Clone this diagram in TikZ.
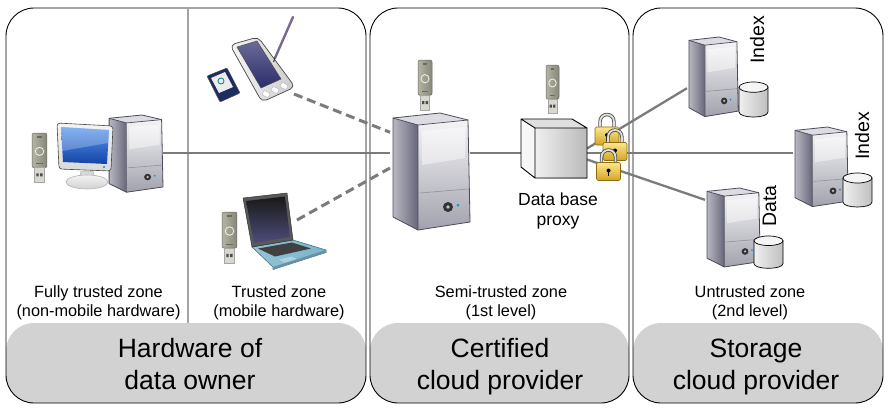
\documentclass[tikz,border=0pt]{standalone}
\usepackage{fontspec}
\setmainfont{Liberation Sans}
\usetikzlibrary{calc}

% palette
\definecolor{bandgray}{HTML}{D2D2D2}
\definecolor{linkgray}{HTML}{7B7B7B}
\definecolor{dividergray}{HTML}{A4A4A4}
\definecolor{sideL}{HTML}{B8B8C2}
\definecolor{sideR}{HTML}{66667A}
\definecolor{frontT}{HTML}{F4F4F6}
\definecolor{frontB}{HTML}{A2A2AE}
\definecolor{towerTop}{HTML}{DCDCE2}
\definecolor{towerEdge}{HTML}{4A4A58}
\definecolor{usbA}{HTML}{B4B4A4}
\definecolor{usbB}{HTML}{86867A}
\definecolor{usbEdge}{HTML}{6A6A5E}
\definecolor{usbPlug}{HTML}{D8D8D0}
\definecolor{lockT}{HTML}{FBE68E}
\definecolor{lockB}{HTML}{D4A420}
\definecolor{lockEdge}{HTML}{8E6C10}
\definecolor{screenT}{HTML}{5A98EE}
\definecolor{screenB}{HTML}{1444A6}
\definecolor{pdaScreen}{HTML}{2C2C6C}
\definecolor{lapBase}{HTML}{7AB4CC}
\definecolor{lapEdge}{HTML}{45768C}
\definecolor{sdBlue}{HTML}{1E2C62}
\definecolor{stylusC}{HTML}{76688E}

\tikzset{
  panel/.style={draw=black, line width=0.9pt, rounded corners=28pt,
    minimum width=#1, minimum height=395pt, inner sep=0pt,
    path picture={\fill[bandgray] (path picture bounding box.south west)
      rectangle ([yshift=80pt]path picture bounding box.south east);}},
  slot/.style 2 args={minimum width=#1, minimum height=#2, inner sep=0pt, outer sep=0pt},
  link/.style={draw=linkgray, line width=2.3pt},
  dashlink/.style={draw=linkgray, line width=3pt, dash pattern=on 9pt off 5pt},
  divider/.style={draw=dividergray, line width=1.2pt},
  zone/.style={font=\fontsize{16.3pt}{19pt}\selectfont, inner sep=0pt, anchor=base},
  owner/.style={font=\fontsize{26.5pt}{32pt}\selectfont, inner sep=0pt, anchor=base},
  proxytext/.style={font=\fontsize{17.5pt}{20pt}\selectfont, inner sep=0pt, anchor=base},
  tag/.style={font=\fontsize{19.5pt}{22pt}\selectfont, inner sep=0pt, rotate=90, anchor=base},
  % tower case, local box 80 x 117, side panel on the left
  tower/.pic={
    \fill[towerTop] (3,5) -- (50,0) -- (78,7) -- (28,12) -- cycle;
    \shade[left color=sideL, right color=sideR] (3,5) -- (28,12) -- (28,117) -- (3,104) -- cycle;
    \shade[top color=frontT, bottom color=frontB] (28,12) -- (78,7) -- (80,109) -- (28,117) -- cycle;
    \fill[white, opacity=0.45] (32,18) -- (75,14) -- (75,45) -- (32,52) -- cycle;
    \draw[towerEdge!60, line width=0.6pt] (30,80) -- (78,76);
    \fill[black!80] (58,94) circle[radius=5];
    \fill[gray!45] (58,94) circle[radius=1.8];
    \fill[cyan!80!blue] (68,92) circle[radius=1.5];
    \draw[towerEdge, line width=0.8pt, line join=round]
      (3,5) -- (50,0) -- (78,7) -- (80,109) -- (28,117) -- (3,104) -- cycle;
    \draw[towerEdge, line width=0.7pt] (3,5) -- (28,12) -- (78,7) (28,12) -- (28,117);
  },
  % usb key, local box 14 x 48
  usbkey/.pic={
    \shade[left color=usbA, right color=usbB, draw=usbEdge, line width=0.5pt, rounded corners=2pt]
      (0,0) rectangle (14,34);
    \fill[usbEdge] (5,2.5) rectangle (9,5);
    \draw[white!75!usbA, line width=0.9pt] (7,18) circle[radius=4];
    \draw[usbEdge, line width=0.5pt] (4,30) -- (10,30);
    \fill[usbPlug, draw=gray!70, line width=0.4pt] (2.5,34) rectangle (11.5,48);
    \fill[black!70] (4,39.5) rectangle (6.3,42.5) (7.7,39.5) rectangle (10,42.5);
  },
  % storage cylinder, local box 29 x 34
  disk/.pic={
    \shade[left color=gray!12, right color=gray!50, draw=black, line width=0.7pt]
      (0,5) -- (0,29) .. controls (0,35.67) and (29,35.67) .. (29,29) -- (29,5) -- cycle;
    \fill[gray!8, draw=black, line width=0.7pt] (14.5,5) ellipse [x radius=14.5, y radius=5];
  },
  % padlock, local origin at the body's top left corner
  padlock/.pic={
    \draw[gray!60!black, line width=3.4pt] (5,1) -- (5,-5) .. controls (5,-15) and (19,-15) .. (19,-5) -- (19,1);
    \draw[gray!25, line width=1.8pt] (5,1) -- (5,-5) .. controls (5,-15) and (19,-15) .. (19,-5) -- (19,1);
    \shade[top color=lockT, bottom color=lockB, draw=lockEdge, line width=0.6pt, rounded corners=1.5pt]
      (0,0) rectangle (24,18);
    \fill[black] (12,8) circle[radius=2];
    \fill[black] (11.2,8) rectangle (12.8,13.5);
  },
  % proxy cube, local box 66 x 59
  cube/.pic={
    \fill[gray!25] (0,0) -- (51,0) -- (66,9) -- (14,9) -- cycle;
    \fill[gray!6] (0,0) -- (14,9) -- (14,59) -- (0,48) -- cycle;
    \shade[left color=gray!12, right color=gray!55] (14,9) rectangle (66,59);
    \draw[black, line width=0.9pt, line join=round]
      (0,0) -- (51,0) -- (66,9) -- (66,59) -- (14,59) -- (0,48) -- cycle
      (0,0) -- (14,9) -- (66,9) (14,9) -- (14,59);
  },
  % monitor, local box 62 x 68
  monitor/.pic={
    \fill[gray!30, draw=gray!60, line width=0.5pt] (26,50) -- (38,50) -- (40,60) -- (24,60) -- cycle;
    \shade[top color=gray!10, bottom color=gray!35, draw=gray!60, line width=0.6pt]
      (32,61) ellipse [x radius=21, y radius=7];
    \shade[top color=gray!8, bottom color=gray!30, draw=gray!55!black, line width=0.6pt, rounded corners=3pt]
      (2,2) -- (58,5) -- (56,50) -- (4,48) -- cycle;
    \shade[top color=screenT, bottom color=screenB] (6,6) -- (54,9) -- (52,43) -- (8,41) -- cycle;
    \fill[white, opacity=0.25] (6,6) -- (54,9) -- (53,22) -- (7,30) -- cycle;
    \fill[cyan!70!blue] (49,46) circle[radius=1.2];
  },
  % handheld with stylus and memory card, local box 94 x 97
  handheld/.pic={
    \shade[left color=gray!8, right color=gray!40, draw=gray!55!black, line width=0.7pt, rounded corners=5pt]
      (26,35) -- (54,27) -- (91,77) -- (58,92) -- cycle;
    \shade[top color=pdaScreen!70, bottom color=pdaScreen, draw=gray!60!black, line width=0.5pt]
      (33,37) -- (53,31) -- (77,69) -- (57,78) -- cycle;
    \foreach \bx/\by in {62/84, 71/80, 80/76}
      \fill[white, draw=gray!60, line width=0.4pt, rounded corners=1pt, rotate around={-25:(\bx,\by)}]
        (\bx-3.5,\by-2.5) rectangle (\bx+3.5,\by+2.5);
    \draw[stylusC, line width=2.4pt, line cap=round] (89,7) -- (71,48);
    \draw[black!80, line width=1pt] (71,48) -- (69.5,52);
    \fill[sdBlue, draw=black!70, line width=0.5pt, rounded corners=1pt]
      (3,66) -- (23,58) -- (36,83) -- (16,92) -- cycle;
    \fill[gray!15] (7,68) -- (21,62) -- (29,77) -- (15,83) -- cycle;
    \draw[teal, line width=0.8pt] (17,71) circle[radius=3];
  },
  % notebook, local box 87 x 80
  notebook/.pic={
    \shade[left color=lapBase!80, right color=lapBase, draw=lapEdge, line width=0.6pt, line join=round]
      (12,57) -- (53,50) -- (86,60) -- (86,62.5) -- (33,79.5) -- (33,77) -- cycle;
    \fill[lapEdge!80] (33,77) -- (86,60) -- (86,62.5) -- (33,79.5) -- cycle;
    \fill[black!75] (18,58.5) -- (52,52.5) -- (71,58.5) -- (35,66.5) -- cycle;
    \fill[lapBase!60!white] (39,69.5) -- (51,66.5) -- (57,69) -- (45,72.5) -- cycle;
    \fill[gray!70!black, draw=black!80, line width=0.5pt, line join=round]
      (3,8) -- (47,3) -- (53,50) -- (12,57) -- cycle;
    \shade[top color=black!90, bottom color=blue!25!black!70] (6,11) -- (45,6.5) -- (50,47) -- (14,53) -- cycle;
  },
}

\begin{document}
\begin{tikzpicture}[x=1pt, y=-1pt]
  \fill[white] (0,0) rectangle (888,408);

  % provider panels with their grey name bands
  \node[panel=360pt] (owner) at (186,205.5) {};
  \node[panel=259pt] (cert) at (499.5,205.5) {};
  \node[panel=250pt] (store) at (758,205.5) {};

  % divider between fixed and mobile hardware
  \coordinate (divtop) at (188,8);
  \coordinate (divbot) at (188,323);
  \draw[divider] (divtop) -- (divbot);

  % icon slots
  \node[slot={56pt}{77pt}] (desk) at (135,153.5) {};
  \node[slot={62pt}{68pt}] (mon) at (86,155) {};
  \node[slot={15pt}{49pt}] (usbD) at (39.5,157.5) {};
  \node[slot={94pt}{97pt}] (pda) at (251,58.5) {};
  \node[slot={87pt}{80pt}] (lap) at (283.5,230) {};
  \node[slot={15pt}{51pt}] (usbL) at (229.5,237.5) {};
  \node[slot={80pt}{117pt}] (srv) at (430,171.5) {};
  \node[slot={14pt}{50pt}] (usbS) at (425,85) {};
  \node[slot={66pt}{59pt}] (proxy) at (554,148.5) {};
  \node[slot={13pt}{48pt}] (usbP) at (552.5,89) {};
  \node[slot={51pt}{80pt}] (st1) at (712.5,77) {};
  \node[slot={55pt}{80pt}] (st2) at (820.5,167) {};
  \node[slot={55pt}{79pt}] (st3) at (732.5,227.5) {};
  \node[slot={29pt}{35pt}] (dk1) at (753.5,99.5) {};
  \node[slot={29pt}{33pt}] (dk2) at (857.5,189.5) {};
  \node[slot={29pt}{32pt}] (dk3) at (768.5,252) {};
  \node[slot={25pt}{18pt}] (lockA) at (607.5,136) {};
  \node[slot={25pt}{18pt}] (lockB) at (615.5,151.5) {};
  \node[slot={24pt}{18pt}] (lockC) at (608.5,171.5) {};

  % links
  \coordinate (bus) at (0,153);
  \draw[link] (desk.east |- bus) -- (srv.west |- bus);
  \draw[link] (srv.east |- bus) -- (proxy.west |- bus);
  \draw[link] (proxy.east |- bus) -- (st2.west |- bus);
  \draw[link] (proxy.east) -- ($(st1.west)!0.28!(st1.south west)$);
  \draw[link] ($(proxy.east)+(0,11)$) -- ($(st3.north west)!0.3!(st3.west)$);
  \draw[dashlink] ($(pda.south east)+(-4,-13)$) -- ($(srv.north west)!0.33!(srv.west)$);
  \draw[dashlink] ($(lap.north east)+(-30,30)$) -- ($(srv.north west)!0.94!(srv.west)$);

  % hardware icons
  \pic[xscale=0.7, yscale=0.66] at (desk.north west) {tower};
  \pic at (mon.north west) {monitor};
  \pic[xscale=1.07, yscale=1.02] at (usbD.north west) {usbkey};
  \pic at (pda.north west) {handheld};
  \pic at (lap.north west) {notebook};
  \pic[xscale=1.07, yscale=1.06] at (usbL.north west) {usbkey};
  \pic at (srv.north west) {tower};
  \pic[yscale=1.04] at (usbS.north west) {usbkey};
  \pic at (proxy.north west) {cube};
  \pic[xscale=0.93] at (usbP.north west) {usbkey};
  \pic at (lockA.north west) {padlock};
  \pic at (lockB.north west) {padlock};
  \pic at (lockC.north west) {padlock};
  \pic[xscale=0.64, yscale=0.68] at (st1.north west) {tower};
  \pic[xscale=0.69, yscale=0.68] at (st2.north west) {tower};
  \pic[xscale=0.69, yscale=0.675] at (st3.north west) {tower};
  \pic[yscale=1.03] at (dk1.north west) {disk};
  \pic at (dk2.north west) {disk};
  \pic[yscale=0.95] at (dk3.north west) {disk};

  % labels
  \node[proxytext] (dbp1) at (558,205) {Data base};
  \node[proxytext] (dbp2) at (558,225) {proxy};
  \node[tag] (tidx1) at (764,40) {Index};
  \node[tag] (tidx2) at (869,136) {Index};
  \node[tag] (tdata) at (776,206) {Data};

  \node[zone] (z1a) at (98.5,297) {Fully trusted zone};
  \node[zone] (z1b) at (98.5,316) {(non-mobile hardware)};
  \node[zone] (z2a) at (279,297) {Trusted zone};
  \node[zone] (z2b) at (279,316) {(mobile hardware)};
  \node[zone] (z3a) at (501,297) {Semi-trusted zone};
  \node[zone] (z3b) at (501,316) {(1st level)};
  \node[zone] (z4a) at (750,297) {Untrusted zone};
  \node[zone] (z4b) at (750,316) {(2nd level)};

  \node[owner] (o1a) at (190,357) {Hardware of};
  \node[owner] (o1b) at (190,389) {data owner};
  \node[owner] (o2a) at (500,357) {Certified};
  \node[owner] (o2b) at (500,389) {cloud provider};
  \node[owner] (o3a) at (756,357) {Storage};
  \node[owner] (o3b) at (756,389) {cloud provider};
\end{tikzpicture}
\end{document}
